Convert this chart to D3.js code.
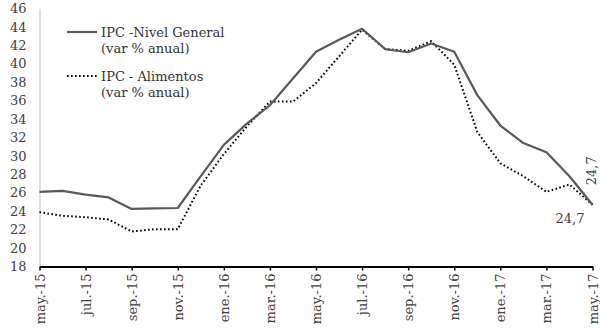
<!DOCTYPE html>
<html>
<head>
<meta charset="utf-8">
<script src="https://cdn.jsdelivr.net/npm/d3@7"></script>
<style>
  html, body { margin: 0; padding: 0; background: #fff; }
  svg { display: block; }
  text { font-family: "DejaVu Serif", "Liberation Serif", serif; }
</style>
</head>
<body>
<svg id="chart" width="600" height="328"></svg>
<script>
// Monthly periods, May 2015 to May 2017
const months = [
  "may.-15","jun.-15","jul.-15","ago.-15","sep.-15","oct.-15","nov.-15","dic.-15",
  "ene.-16","feb.-16","mar.-16","abr.-16","may.-16","jun.-16","jul.-16","ago.-16",
  "sep.-16","oct.-16","nov.-16","dic.-16","ene.-17","feb.-17","mar.-17","abr.-17","may.-17"
];
// Months shown on the x axis
const tickMonths = [
  "may.-15","jul.-15","sep.-15","nov.-15","ene.-16","mar.-16","may.-16",
  "jul.-16","sep.-16","nov.-16","ene.-17","mar.-17","may.-17"
];
// IPC - Nivel General (var % anual)
const ipcGeneral = [
  26.1, 26.2, 25.8, 25.5, 24.25, 24.3, 24.35, 27.8,
  31.2, 33.5, 35.5, 38.4, 41.3, 42.6, 43.8, 41.6,
  41.25, 42.2, 41.3, 36.6, 33.3, 31.4, 30.4, 27.8, 24.7
];
// IPC - Alimentos (var % anual)
const ipcAlimentos = [
  23.9, 23.5, 23.35, 23.1, 21.8, 22.05, 22.05, 26.8,
  30.2, 33.2, 35.9, 35.9, 37.9, 40.8, 43.7, 41.6,
  41.4, 42.45, 39.9, 32.6, 29.2, 27.8, 26.1, 26.9, 24.7
];
const yTicks = [18,20,22,24,26,28,30,32,34,36,38,40,42,44,46];

const svg = d3.select("#chart");
const plotLeft = 39.5, plotRight = 592.5, plotTop = 8.5, plotBottom = 266.5;

const x = d3.scalePoint().domain(months).range([plotLeft, plotRight]);
const y = d3.scaleLinear().domain([18, 46]).range([plotBottom, plotTop]);

// y axis: labels only, with a light vertical rule
const yAxis = svg.append("g")
  .attr("transform", `translate(${plotLeft},0)`)
  .call(d3.axisLeft(y).tickValues(yTicks).tickSize(0).tickPadding(13));
yAxis.select(".domain").attr("stroke", "#bfbfbf").attr("stroke-width", 1);
yAxis.selectAll("text").attr("font-size", 13).attr("fill", "#404040")
  .attr("font-family", "DejaVu Serif, serif");

// x axis: black baseline, ticks downward, rotated labels
const xAxis = svg.append("g")
  .attr("transform", `translate(0,${plotBottom})`)
  .call(d3.axisBottom(x).tickValues(tickMonths).tickSize(4).tickSizeOuter(0).tickPadding(6));
xAxis.select(".domain").attr("stroke", "#000").attr("stroke-width", 2);
xAxis.selectAll(".tick line").attr("stroke", "#000").attr("stroke-width", 1.5);
xAxis.selectAll("text")
  .attr("font-size", 13).attr("fill", "#404040")
  .attr("font-family", "DejaVu Serif, serif")
  .attr("transform", "rotate(-90)")
  .attr("text-anchor", "end")
  .attr("x", -7).attr("y", 0).attr("dy", "0.35em");

const line = d3.line().x((d, i) => x(months[i])).y(d => y(d));

svg.append("path").datum(ipcAlimentos)
  .attr("d", line).attr("fill", "none")
  .attr("stroke", "#000").attr("stroke-width", 2)
  .attr("stroke-dasharray", "1.6,2.4");

svg.append("path").datum(ipcGeneral)
  .attr("d", line).attr("fill", "none")
  .attr("stroke", "#595959").attr("stroke-width", 2.2)
  .attr("stroke-linejoin", "round");

// end-value labels
const last = months.length - 1;
svg.append("text")
  .attr("transform", `translate(${x(months[last]) - 1},${y(ipcGeneral[last]) - 34}) rotate(-90)`)
  .attr("text-anchor", "middle").attr("dy", "0.35em")
  .attr("font-size", 13).attr("fill", "#404040")
  .text(String(ipcGeneral[last]).replace(".", ","));
svg.append("text")
  .attr("x", x(months[last]) - 8).attr("y", y(ipcAlimentos[last]) + 18)
  .attr("text-anchor", "end")
  .attr("font-size", 13).attr("fill", "#404040")
  .text(String(ipcAlimentos[last]).replace(".", ","));

// legend
const legend = [
  { label: ["IPC -Nivel General", "(var % anual)"], stroke: "#595959", dash: null, w: 2.2, yy: 32 },
  { label: ["IPC - Alimentos", "(var % anual)"], stroke: "#000", dash: "1.6,2.4", w: 2, yy: 76 }
];
legend.forEach(l => {
  svg.append("line")
    .attr("x1", 67).attr("x2", 97).attr("y1", l.yy).attr("y2", l.yy)
    .attr("stroke", l.stroke).attr("stroke-width", l.w)
    .attr("stroke-dasharray", l.dash);
  l.label.forEach((t, i) => {
    svg.append("text")
      .attr("x", 101).attr("y", l.yy + i * 16).attr("dy", "0.35em")
      .attr("font-size", 13).attr("fill", "#333")
      .text(t);
  });
});
</script>
</body>
</html>
